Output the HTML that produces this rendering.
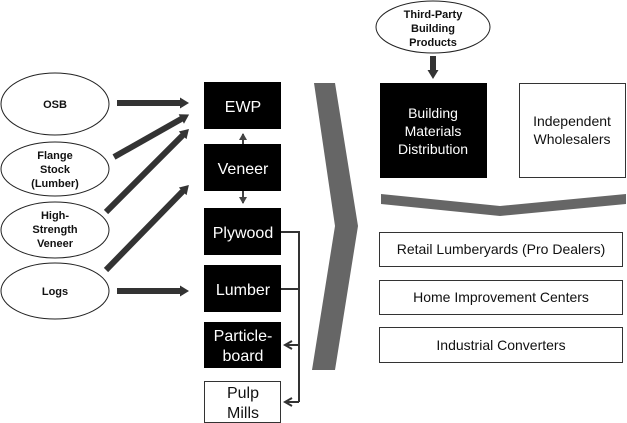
<!DOCTYPE html>
<html><head><meta charset="utf-8"><style>
html,body{margin:0;padding:0;background:#fff;}
svg{display:block;}
text{font-family:"Liberation Sans",Arial,sans-serif;}
.b{font-weight:bold;font-size:11px;fill:#111;}
.w{fill:#fff;font-size:16px;}
.k{fill:#111;font-size:14px;}
</style></head><body>
<svg width="627" height="423" viewBox="0 0 627 423" xmlns="http://www.w3.org/2000/svg">
<defs>
<marker id="ah" markerWidth="10" markerHeight="12" refX="2" refY="6" orient="auto" markerUnits="userSpaceOnUse"><path d="M0,0.5L9,6L0,11.5z" fill="#333"/></marker>
<marker id="sa" markerWidth="8" markerHeight="8" refX="6" refY="4" orient="auto" markerUnits="userSpaceOnUse"><path d="M0,0L7,4L0,8z" fill="#444"/></marker>
<marker id="oa" markerWidth="10" markerHeight="10" refX="8" refY="5" orient="auto" markerUnits="userSpaceOnUse"><path d="M1,1L8,5L1,9" fill="none" stroke="#333" stroke-width="2"/></marker>
</defs>
<g fill="#fff" stroke="#222" stroke-width="1">
<ellipse cx="55" cy="104" rx="54" ry="31"/>
<ellipse cx="55" cy="169" rx="54" ry="27"/>
<ellipse cx="55" cy="230" rx="54" ry="28"/>
<ellipse cx="55" cy="291" rx="54" ry="28"/>
<ellipse cx="433" cy="27" rx="57" ry="26"/>
</g>
<text class="b" x="55" y="108" text-anchor="middle">OSB</text>
<text class="b" text-anchor="middle"><tspan x="55" y="159">Flange</tspan><tspan x="55" y="173">Stock</tspan><tspan x="55" y="187">(Lumber)</tspan></text>
<text class="b" text-anchor="middle"><tspan x="55" y="219">High-</tspan><tspan x="55" y="233">Strength</tspan><tspan x="55" y="247">Veneer</tspan></text>
<text class="b" x="55" y="295" text-anchor="middle">Logs</text>
<text class="b" text-anchor="middle"><tspan x="433" y="18">Third-Party</tspan><tspan x="433" y="32">Building</tspan><tspan x="433" y="46">Products</tspan></text>
<g stroke="#333" stroke-width="6" marker-end="url(#ah)">
<line x1="117" y1="103" x2="182" y2="103"/>
<line x1="114" y1="157" x2="183" y2="118"/>
<line x1="106" y1="212" x2="184" y2="134"/>
<line x1="106" y1="270" x2="184" y2="190"/>
<line x1="117" y1="291" x2="182" y2="291"/>
<line x1="433" y1="56" x2="433" y2="72"/>
</g>
<g fill="#000">
<rect x="204" y="82" width="77" height="47"/>
<rect x="204" y="144" width="77" height="47"/>
<rect x="204" y="208" width="77" height="47"/>
<rect x="204" y="265" width="77" height="47"/>
<rect x="204" y="322" width="77" height="46"/>
<rect x="380" y="83" width="107" height="95"/>
</g>
<rect x="204.5" y="381.5" width="76" height="41" fill="#fff" stroke="#333"/>
<text class="w" x="243" y="112" text-anchor="middle">EWP</text>
<text class="w" x="243" y="174" text-anchor="middle">Veneer</text>
<text class="w" x="243" y="238" text-anchor="middle">Plywood</text>
<text class="w" x="243" y="295" text-anchor="middle">Lumber</text>
<text class="w" text-anchor="middle"><tspan x="243" y="341">Particle-</tspan><tspan x="243" y="361">board</tspan></text>
<text class="k" text-anchor="middle" style="font-size:16px"><tspan x="243" y="398">Pulp</tspan><tspan x="243" y="418">Mills</tspan></text>
<text class="w" text-anchor="middle" style="font-size:14px"><tspan x="433" y="118">Building</tspan><tspan x="433" y="136">Materials</tspan><tspan x="433" y="154">Distribution</tspan></text>
<g stroke="#444" stroke-width="2">
<line x1="243" y1="144" x2="243" y2="134" marker-end="url(#sa)"/>
<line x1="243" y1="191" x2="243" y2="203" marker-end="url(#sa)"/>
</g>
<g stroke="#333" stroke-width="2" fill="none">
<polyline points="281,232 299,232 299,402"/>
<line x1="281" y1="289" x2="299" y2="289"/>
<line x1="299" y1="345" x2="285" y2="345" marker-end="url(#oa)"/>
<line x1="299" y1="402" x2="285" y2="402" marker-end="url(#oa)"/>
</g>
<polygon points="314,83 335,83 358,226 335,370 312,370 335,226" fill="#666"/>
<polygon points="381,194 500,206 626,194 626,204 500,216 381,204" fill="#666"/>
<g fill="#fff" stroke="#333">
<rect x="519.5" y="83.5" width="106" height="94"/>
<rect x="379.5" y="232.5" width="243" height="34"/>
<rect x="379.5" y="280.5" width="243" height="34"/>
<rect x="379.5" y="327.5" width="243" height="35"/>
</g>
<text class="k" text-anchor="middle" style="font-size:14px"><tspan x="572" y="126">Independent</tspan><tspan x="572" y="144">Wholesalers</tspan></text>
<text class="k" x="501" y="254" text-anchor="middle">Retail Lumberyards (Pro Dealers)</text>
<text class="k" x="501" y="302" text-anchor="middle">Home Improvement Centers</text>
<text class="k" x="501" y="350" text-anchor="middle">Industrial Converters</text>
</svg>
</body></html>
